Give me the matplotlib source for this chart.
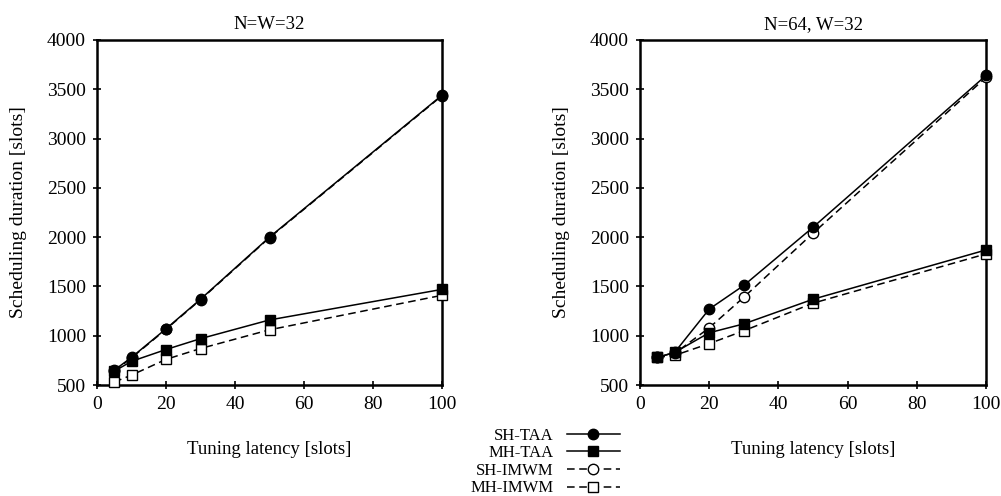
import matplotlib
matplotlib.use("Agg")
import matplotlib.pyplot as plt
from matplotlib.lines import Line2D

latency = [5, 10, 20, 30, 50, 100]

# N=W=32
left_sh_taa = [650, 780, 1070, 1370, 2000, 3440]
left_mh_taa = [640, 740, 860, 970, 1160, 1470]
left_sh_imwm = [640, 775, 1065, 1365, 1995, 3435]
left_mh_imwm = [530, 600, 760, 870, 1060, 1410]

# N=64, W=32
right_sh_taa = [780, 830, 1270, 1510, 2100, 3640]
right_mh_taa = [780, 830, 1030, 1120, 1370, 1870]
right_sh_imwm = [780, 820, 1080, 1390, 2040, 3620]
right_mh_imwm = [780, 800, 920, 1050, 1330, 1830]

titles = ["N=W=32", "N=64, W=32"]
series_names = ["SH-TAA", "MH-TAA", "SH-IMWM", "MH-IMWM"]
xticks = [0, 20, 40, 60, 80, 100]
yticks = [500, 1000, 1500, 2000, 2500, 3000, 3500, 4000]

plt.rcParams['font.family'] = ['Liberation Serif', 'DejaVu Serif']

fig = plt.figure(figsize=(10.01, 4.96), dpi=100)
ax_l = fig.add_axes([97/1001, 111/496, 345/1001, 345/496])
ax_r = fig.add_axes([640/1001, 111/496, 346/1001, 345/496])

styles = [
    dict(color='black', linestyle='-', marker='o', markersize=7.5, markerfacecolor='black', lw=1.1),
    dict(color='black', linestyle='-', marker='s', markersize=7.5, markerfacecolor='black', lw=1.1),
    dict(color='black', linestyle=(0, (5, 3)), marker='o', markersize=7.5, markerfacecolor='white', lw=1.1),
    dict(color='black', linestyle=(0, (5, 3)), marker='s', markersize=7.5, markerfacecolor='white', lw=1.1),
]

data = [
    (ax_l, [left_sh_taa, left_mh_taa, left_sh_imwm, left_mh_imwm], titles[0]),
    (ax_r, [right_sh_taa, right_mh_taa, right_sh_imwm, right_mh_imwm], titles[1]),
]

for ax, series, title in data:
    for i in [3, 2, 1, 0]:
        ax.plot(latency, series[i], label=series_names[i], clip_on=False, zorder=3 + (1 if i < 2 else 0), **styles[i])
    ax.set_xlim(0, 100)
    ax.set_ylim(500, 4000)
    ax.set_xticks(xticks)
    ax.set_yticks(yticks)
    ax.tick_params(direction='inout', length=6, width=1.2, labelsize=14, pad=5)
    for s in ax.spines.values():
        s.set_linewidth(1.8)
    ax.set_title(title, fontsize=13.5, pad=8)
    ax.set_xlabel("Tuning latency [slots]", fontsize=13.5, labelpad=20)
    ax.set_ylabel("Scheduling duration [slots]", fontsize=14, labelpad=14)

handles = [Line2D([0], [0], **styles[i]) for i in range(4)]
fig.legend(handles, series_names, loc='center', bbox_to_anchor=(545/1001, 1 - 462/496),
           frameon=False, markerfirst=False, fontsize=12, handlelength=3.2,
           labelspacing=0.1, handletextpad=0.8, borderpad=0)

fig.savefig("out.png", dpi=100)
